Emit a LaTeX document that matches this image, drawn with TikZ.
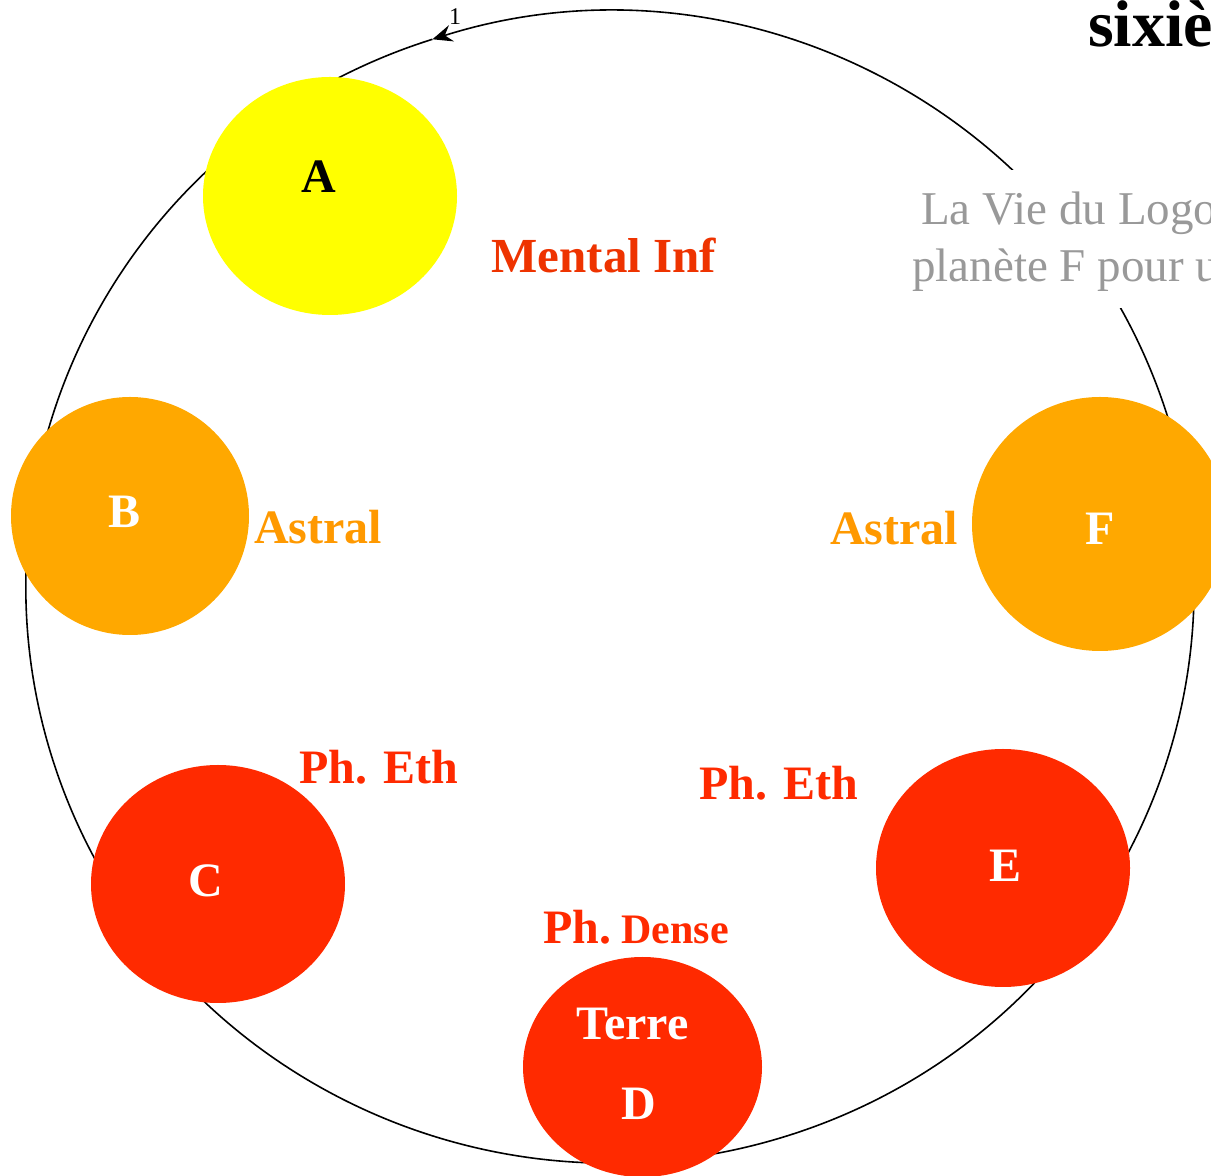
\documentclass[tikz,border=0pt]{standalone}
\usepackage{fontspec}
\setmainfont{Liberation Serif}
\usetikzlibrary{arrows.meta,shapes.geometric}
\definecolor{ayellow}{HTML}{FFFF00}
\definecolor{aorange}{HTML}{FFA800}
\definecolor{ared}{HTML}{FF2A00}
\definecolor{tmental}{HTML}{EE3300}
\definecolor{tastral}{HTML}{FF9900}
\definecolor{tgray}{HTML}{999999}
\begin{document}
\begin{tikzpicture}[x=1pt,y=1pt,
  planet/.style={shape=ellipse, inner sep=0pt, draw=none},
  lab/.style={font=\bfseries\fontsize{48}{58}\selectfont, inner sep=0pt, anchor=base},
  graytxt/.style={font=\fontsize{47}{56}\selectfont, text=tgray, inner sep=0pt, anchor=base west},
  ring/.style={line width=1.6pt, black}
]
\useasboundingbox (0,0) rectangle (1211,1176);
% ring with arrow
\draw[ring, {Stealth[length=20pt,width=17pt,inset=7pt]}-] (432.4,1136.7) arc[start angle=107.7, end angle=-252.3, x radius=584, y radius=575.5];
\node[font=\fontsize{24}{28}\selectfont, inner sep=0pt, anchor=base] (one) at (455,1151) {1};
% planets
\node[planet, fill=ayellow, minimum width=254pt, minimum height=238pt] (A) at (330,980) {};
\node[planet, fill=aorange, minimum width=238pt, minimum height=238pt] (B) at (130,660) {};
\node[planet, fill=ared, minimum width=254pt, minimum height=238pt] (C) at (218,292) {};
\node[planet, fill=ared, minimum width=239pt, minimum height=220pt] (D) at (642.5,109) {};
\node[planet, fill=ared, minimum width=254pt, minimum height=238pt] (E) at (1003,308) {};
\node[planet, fill=aorange, minimum width=256pt, minimum height=254pt] (F) at (1100,652) {};
% planet letters
\node[lab, text=black] (lA) at (319,983) {A};
\node[lab, text=white] (lB) at (125,648) {B};
\node[lab, text=white] (lC) at (206,279) {C};
\node[lab, text=white] (lTerre) at (632.5,136) {Terre};
\node[lab, text=white] (lD) at (638.5,56) {D};
\node[lab, text=white] (lE) at (1005,294) {E};
\node[lab, text=white] (lF) at (1100.5,631) {F};
% plane labels
\node[lab, text=tmental, font=\bfseries\fontsize{49}{58}\selectfont] (mental) at (604,903) {Mental Inf};
\node[lab, text=tastral] (astralB) at (318,632) {Astral};
\node[lab, text=tastral] (astralF) at (894,631) {Astral};
\node[lab, text=ared] (ethC) at (379,392) {Ph. Eth};
\node[lab, text=ared] (ethE) at (779,376) {Ph. Eth};
\node[lab, text=ared] (dense) at (636,232) {Ph.{\fontsize{42}{50}\selectfont\ Dense}};
% top right texts
\fill[white] (905,1006) rectangle (1211,868);
\node[graytxt] (g1) at (921,951) {La Vie du Logo};
\node[graytxt] (g2) at (912,894) {planète F pour u};
\node[font=\bfseries\fontsize{66}{78}\selectfont, inner sep=0pt, anchor=base west] (six) at (1088,1129) {sixiè};
\end{tikzpicture}
\end{document}
